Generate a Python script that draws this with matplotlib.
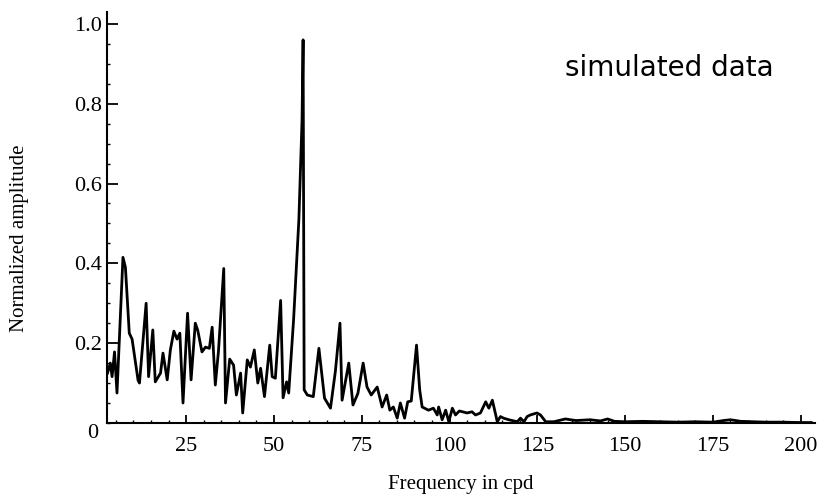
import matplotlib.pyplot as plt
from matplotlib.ticker import MultipleLocator

# spectrum (frequency in cpd, normalized amplitude)
freq = [2.6, 3.4, 3.9, 4.6, 5.3, 7.0, 7.7, 8.8, 9.6, 11.3, 11.7, 13.6, 14.3,
        15.5, 16.2, 17.7, 18.4, 19.6, 20.5, 21.5, 22.4, 23.2, 24.1, 25.4, 26.4,
        27.6, 28.3, 29.5, 30.5, 31.6, 32.4, 33.3, 34.2, 35.7, 36.2, 37.4, 38.5,
        39.3, 40.5, 41.1, 42.4, 43.3, 44.4, 45.4, 46.2, 47.3, 48.8, 49.5, 50.4,
        51.9, 52.6, 53.6, 54.2, 55.6, 57.1, 58.0, 58.3, 58.6, 59.5, 61.2, 62.8,
        64.4, 66.1, 67.5, 68.8, 69.4, 71.3, 72.5, 73.9, 75.4, 76.5, 77.7, 79.4,
        80.8, 82.1, 83.0, 84.0, 85.1, 86.0, 87.2, 88.1, 89.1, 90.6, 91.5, 92.2,
        94.0, 95.4, 96.5, 96.9, 97.9, 98.9, 99.8, 100.8, 101.7, 102.8, 105.0,
        106.4, 107.4, 108.8, 110.3, 111.2, 112.2, 113.6, 114.5, 115.4, 116.9,
        119.3, 120.2, 121.2, 122.1, 123.0, 124.9, 125.9, 127.4, 129.7, 133.0,
        136.0, 140.0, 143.0, 145.0, 147.0, 150.0, 155.0, 160.0, 165.0, 170.0,
        175.0, 178.0, 180.0, 183.0, 190.0, 195.0, 200.0, 203.0]
amp = [0.125, 0.15, 0.116, 0.178, 0.075, 0.415, 0.39, 0.225, 0.21, 0.107, 0.10,
       0.30, 0.116, 0.233, 0.103, 0.125, 0.175, 0.108, 0.183, 0.23, 0.21, 0.225,
       0.05, 0.275, 0.108, 0.25, 0.232, 0.178, 0.19, 0.187, 0.24, 0.095, 0.18,
       0.387, 0.05, 0.16, 0.145, 0.07, 0.125, 0.025, 0.158, 0.14, 0.183, 0.10,
       0.137, 0.066, 0.195, 0.116, 0.112, 0.307, 0.063, 0.103, 0.075, 0.26,
       0.51, 0.76, 0.96, 0.083, 0.07, 0.066, 0.187, 0.062, 0.037, 0.13, 0.25,
       0.057, 0.15, 0.045, 0.074, 0.15, 0.09, 0.07, 0.09, 0.04, 0.07, 0.032,
       0.04, 0.012, 0.05, 0.012, 0.053, 0.055, 0.195, 0.083, 0.04, 0.032, 0.037,
       0.02, 0.04, 0.008, 0.032, 0.003, 0.037, 0.02, 0.03, 0.025, 0.028, 0.02,
       0.025, 0.053, 0.037, 0.057, 0.003, 0.016, 0.012, 0.008, 0.003, 0.012,
       0.003, 0.016, 0.02, 0.025, 0.02, 0.003, 0.003, 0.01, 0.006, 0.008, 0.005,
       0.01, 0.004, 0.003, 0.004, 0.003, 0.002, 0.003, 0.002, 0.006, 0.008,
       0.004, 0.002, 0.002, 0.001, 0.001]

xticks = [25, 50, 75, 100, 125, 150, 175, 200]
yticks = [0.2, 0.4, 0.6, 0.8, 1.0]

serif = 'Liberation Serif'

fig = plt.figure(figsize=(8.18, 4.97), dpi=100)
ax = fig.add_axes([0.131, 0.149, 0.865, 0.827])

ax.plot(freq, amp, color='black', linewidth=2.0)

ax.set_xlim(2.5, 204)
ax.set_ylim(0, 1.03)

ax.spines['top'].set_visible(False)
ax.spines['right'].set_visible(False)
ax.spines['left'].set_linewidth(1.5)
ax.spines['bottom'].set_linewidth(1.5)

ax.set_xticks(xticks)
ax.set_xticklabels([str(t) for t in xticks])
ax.set_yticks(yticks)
ax.set_yticklabels(['%.1f' % t for t in yticks])
ax.xaxis.set_minor_locator(MultipleLocator(5))
ax.yaxis.set_minor_locator(MultipleLocator(0.05))
ax.tick_params(axis='x', which='major', direction='in', length=6, width=1.3, pad=10)
ax.tick_params(axis='y', which='major', direction='in', length=8, width=1.3, pad=4)
ax.tick_params(which='minor', direction='in', length=2.5, width=1.0)
for lab in ax.get_xticklabels() + ax.get_yticklabels():
    lab.set_fontfamily(serif)
    lab.set_fontsize(16)

# shared zero at the corner
ax.text(-0.02, -0.025, '0', transform=ax.transAxes, ha='center', va='center',
        fontfamily=serif, fontsize=16)

ax.set_xlabel('Frequency in cpd', fontfamily=serif, fontsize=15, labelpad=14)
ax.set_ylabel('Normalized amplitude', fontfamily=serif, fontsize=15)
ax.yaxis.set_label_coords(-0.111, 0.45)

ax.text(0.794, 0.864, 'simulated data', transform=ax.transAxes, ha='center',
        va='center', fontfamily='DejaVu Sans', fontsize=20)

fig.savefig('out.png', dpi=100)
